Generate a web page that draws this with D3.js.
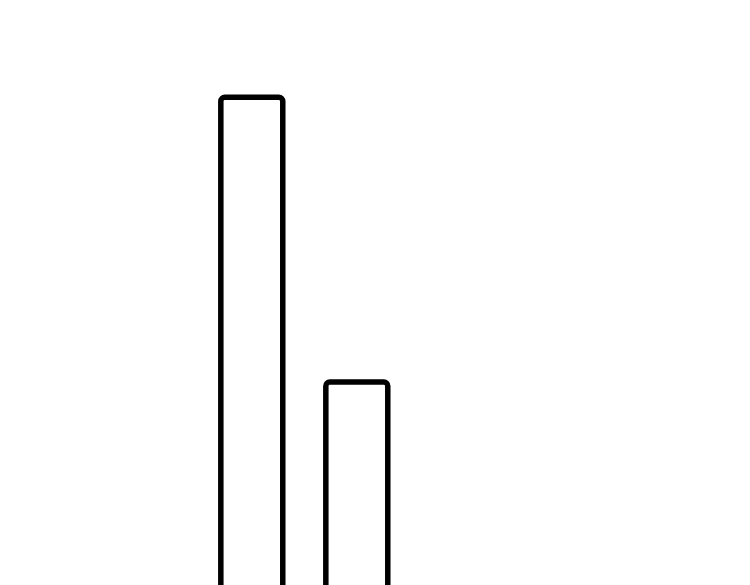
<!DOCTYPE html>
<html><head><meta charset="utf-8">
<script src="https://cdn.jsdelivr.net/npm/d3@7"></script>
<style>html,body{margin:0;padding:0;background:#fff;overflow:hidden}</style>
</head><body>
<svg id="chart" width="750" height="585"></svg>
<script>
const categories = ["A", "B"];
const values = [90, 50];

const svg = d3.select("#chart");
const x = d3.scaleBand().domain(categories).range([199.3, 409.3]).paddingInner(0.41).paddingOuter(0.205);
const y = d3.scaleLinear().domain([0, 100]).range([738, 26]);

svg.selectAll("rect.bar").data(categories).join("rect")
  .attr("class", "bar")
  .attr("x", d => x(d))
  .attr("y", (d, i) => y(values[i]))
  .attr("width", x.bandwidth())
  .attr("height", (d, i) => y(0) - y(values[i]))
  .attr("rx", 4).attr("ry", 4)
  .attr("fill", "#fff")
  .attr("stroke", "#000")
  .attr("stroke-width", 5.5);
</script>
</body></html>
